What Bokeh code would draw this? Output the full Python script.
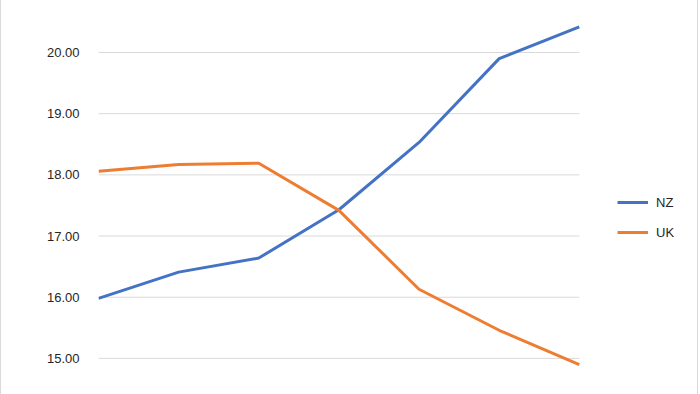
from bokeh.plotting import figure
from bokeh.models import Range1d, FixedTicker, Legend, LegendItem, NumeralTickFormatter
from bokeh.embed import file_html
from bokeh.resources import INLINE

# data
x_index = [0, 1, 2, 3, 4, 5, 6]
nz_values = [15.98, 16.41, 16.64, 17.43, 18.53, 19.90, 20.42]
uk_values = [18.06, 18.17, 18.19, 17.42, 16.13, 15.46, 14.90]
y_ticks = [15, 16, 17, 18, 19, 20]

x_last = x_index[-1]
p = figure(width=698, height=394, output_backend="svg", toolbar_location=None,
           x_range=Range1d(0, x_last * 599 / 480), y_range=Range1d(14.41, 20.85),
           min_border_left=97, min_border_right=1, min_border_top=0, min_border_bottom=0)
p.styles = {"border-left": "1px solid #D9D9D9", "border-right": "1px solid #D9D9D9"}
p.outline_line_color = None
p.xaxis.visible = False
p.xgrid.visible = False
p.ygrid.visible = False
p.yaxis.ticker = FixedTicker(ticks=y_ticks)
p.yaxis.formatter = NumeralTickFormatter(format="0.00")
p.yaxis.axis_line_color = None
p.yaxis.major_tick_line_color = None
p.yaxis.minor_tick_line_color = None
p.yaxis.major_tick_out = 0
p.yaxis.major_tick_in = 0
p.yaxis.major_label_text_font = "Liberation Sans"
p.yaxis.major_label_text_font_size = "13px"
p.yaxis.major_label_text_color = "#262626"
p.yaxis.major_label_standoff = 19

# horizontal gridlines spanning the category range
p.segment(x0=[x_index[0]] * len(y_ticks), x1=[x_last] * len(y_ticks),
          y0=y_ticks, y1=y_ticks, line_color="#D9D9D9", line_width=1)

r_nz = p.line(x_index, nz_values, line_color="#4472C4", line_width=3)
r_uk = p.line(x_index, uk_values, line_color="#ED7D31", line_width=3)

legend = Legend(items=[LegendItem(label="NZ", renderers=[r_nz]),
                       LegendItem(label="UK", renderers=[r_uk])],
                location=(519, 152), padding=0, margin=0, spacing=10,
                glyph_width=31, glyph_height=20, label_standoff=8,
                border_line_color=None, background_fill_alpha=0,
                label_text_font="Liberation Sans", label_text_font_size="13px",
                label_text_color="#262626")
p.add_layout(legend, "center")

open("out.html", "w").write(file_html(p, INLINE))
